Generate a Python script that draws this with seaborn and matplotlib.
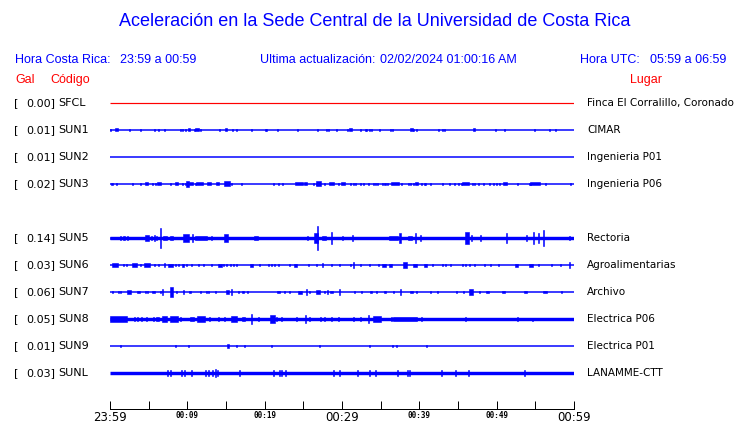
import matplotlib
matplotlib.use("Agg")
import matplotlib.pyplot as plt
import matplotlib.transforms as mtransforms
import pandas as pd
import seaborn as sns

# ---------------- data ----------------
TITLE = "Aceleración en la Sede Central de la Universidad de Costa Rica"
HORA_CR_LABEL = "Hora Costa Rica:"
HORA_CR = "23:59 a 00:59"
ACT_LABEL = "Ultima actualización:"
ACTUALIZACION = "02/02/2024 01:00:16 AM"
UTC_LABEL = "Hora UTC:"
HORA_UTC = "05:59 a 06:59"

# station slots (None = station without data, leaves an empty row)
SLOTS = ["SFCL", "SUN1", "SUN2", "SUN3", None, "SUN5", "SUN6", "SUN7", "SUN8", "SUN9", "SUNL"]
PEAK_GAL = [0.00, 0.01, 0.01, 0.02, None, 0.14, 0.03, 0.06, 0.05, 0.01, 0.03]
PLACES = ["Finca El Corralillo, Coronado", "CIMAR", "Ingenieria P01", "Ingenieria P06", None,
          "Rectoria", "Agroalimentarias", "Archivo", "Electrica P06", "Electrica P01", "LANAMME-CTT"]

# time axis (minutes after 23:59)
TICK_MINUTES = [0, 5, 10, 15, 20, 25, 30, 35, 40, 45, 50, 55, 60]
LABEL_MINUTES = [0, 10, 20, 30, 40, 50, 60]
TICK_LABELS = ["23:59", "00:09", "00:19", "00:29", "00:39", "00:49", "00:59"]

# trace bursts: (minute, half amplitude [counts], duration [min])
SPIKES_SFCL = []
SPIKES_SUN1 = [(0.1, 1.3), (0.86, 1.5, 0.3), (2.5, 1.3), (3.9, 1.3), (5.7, 1.3), (6.3, 1.3), (7.0, 1.3),
               (9.1, 1.3), (9.4, 1.3), (9.7, 1.3), (10.2, 1.5, 0.3), (10.9, 1.3), (11.25, 1.5, 0.45),
               (11.7, 1.3), (14.2, 1.3), (15.0, 1.5, 0.3), (15.8, 1.3), (16.3, 1.3), (18.3, 1.3),
               (20.1, 1.3), (20.3, 1.3), (21.6, 1.3), (24.2, 1.3), (26.8, 1.3), (28.0, 1.3), (28.2, 1.3),
               (29.3, 1.3), (30.7, 1.3), (31.1, 1.5, 0.3), (32.4, 1.3), (33.0, 1.3), (33.2, 1.3),
               (33.5, 1.3), (33.8, 1.3), (34.8, 1.3), (36.3, 1.3), (36.5, 1.3), (39.0, 1.5, 0.3),
               (39.3, 1.3), (39.6, 1.3), (42.5, 1.3), (43.0, 1.3), (43.2, 1.3), (47.1, 1.5, 0.3),
               (49.8, 1.3), (51.0, 1.3), (54.9, 1.3), (56.8, 1.3), (57.6, 1.3)]
SPIKES_SUN2 = []
SPIKES_SUN3 = [(0.22, 1.3, 0.3), (0.86, 1.3), (2.93, 1.3), (3.92, 1.3), (4.70, 1.5, 0.45), (5.47, 1.3),
               (5.82, 1.3), (6.34, 1.5, 0.4), (7.80, 1.3), (8.58, 1.5, 0.4), (9.40, 1.3), (9.78, 1.3),
               (10.04, 2.7, 0.35), (10.47, 1.5, 0.55), (11.08, 1.3), (11.55, 1.5, 0.85),
               (12.76, 1.5, 0.55), (13.92, 1.5, 0.45), (15.13, 2.5, 0.7), (15.65, 1.3), (16.94, 1.3),
               (21.12, 1.3), (21.85, 1.3), (22.28, 1.3), (24.44, 1.5, 0.95), (25.30, 1.5, 0.45),
               (26.29, 1.3), (26.64, 1.3), (26.98, 2.5, 0.6), (27.80, 1.3), (28.66, 1.5, 0.6),
               (29.53, 1.3), (30.13, 1.5, 0.55), (31.12, 1.3), (31.47, 1.3), (31.77, 1.3), (32.33, 1.3),
               (32.84, 1.3), (33.41, 1.3), (34.09, 1.3), (34.31, 1.3), (34.61, 1.3), (35.22, 1.3),
               (35.56, 1.3), (35.86, 1.3), (36.85, 1.5, 1.15), (37.72, 1.3), (38.58, 1.3), (38.92, 1.3),
               (39.22, 1.3), (39.61, 1.5, 0.4), (40.22, 1.3), (40.65, 1.3), (40.86, 1.3), (41.38, 1.3),
               (42.97, 1.3), (43.88, 1.3), (44.53, 1.3), (45.09, 1.3), (45.47, 1.3), (45.99, 1.5, 0.85),
               (46.90, 1.3), (47.11, 1.3), (47.63, 1.3), (48.36, 1.3), (49.05, 1.3), (49.57, 1.3),
               (50.0, 1.3), (50.43, 1.3), (51.08, 1.5, 0.4), (52.67, 1.3), (54.31, 1.3),
               (54.96, 1.5, 1.4), (56.29, 1.3), (59.53, 1.3)]
SPIKES_SUN5 = [(0.2, 1.3, 0.3), (1.38, 2.3), (1.81, 1.7, 0.2), (2.28, 1.7), (2.93, 1.3, 0.3), (3.45, 1.3),
               (4.78, 3.3, 0.5), (5.39, 2.0), (5.73, 2.7), (6.03, 1.7), (6.47, 10.0), (7.11, 2.0, 0.4),
               (7.97, 1.7, 0.4), (8.92, 1.3, 0.6), (9.83, 4.0, 0.7), (10.65, 4.0), (11.77, 1.7, 1.5),
               (13.15, 1.7), (13.79, 1.3), (14.35, 1.3, 0.2), (15.04, 4.0, 0.5), (17.8, 1.3),
               (18.84, 1.7, 0.5), (20.69, 1.3), (22.41, 1.3), (24.18, 1.3, 0.35), (24.57, 1.3),
               (25.13, 1.3), (25.56, 2.0), (26.6, 5.0, 0.5), (26.77, 12.0), (27.72, 1.7, 0.5),
               (28.66, 6.0), (30.04, 2.3), (31.42, 3.3), (32.54, 1.3), (33.19, 1.3), (34.18, 1.3),
               (34.96, 1.3), (35.56, 1.3), (36.64, 1.7, 1.2), (37.5, 5.0), (38.79, 2.0, 0.4),
               (39.44, 4.7), (40.09, 2.7), (41.81, 1.3), (42.89, 1.3), (43.97, 1.3), (45.04, 1.3),
               (46.16, 6.0, 0.5), (46.77, 3.3), (47.97, 3.0), (50.0, 1.3), (51.29, 4.7), (52.37, 1.3),
               (53.88, 3.3), (54.74, 6.0), (55.39, 5.0), (56.12, 8.3), (57.33, 1.3), (58.41, 1.3),
               (59.48, 2.3)]
SPIKES_SUN6 = [(0.65, 1.7, 0.7), (1.81, 1.3), (2.16, 1.3), (3.15, 1.7, 0.6), (3.88, 1.3), (4.78, 1.7, 0.7),
               (5.73, 1.3), (6.25, 1.3), (7.03, 2.3), (7.84, 1.5, 0.6), (8.41, 1.3), (8.84, 1.3),
               (9.44, 1.5, 0.35), (9.91, 1.3), (10.56, 1.3), (11.42, 1.3), (12.07, 1.3), (13.15, 1.3),
               (14.22, 1.5, 0.4), (14.74, 1.3), (15.09, 1.3), (15.52, 1.3), (15.95, 1.3), (16.38, 1.3),
               (18.28, 1.5, 0.35), (19.27, 1.3), (20.47, 1.3), (20.91, 1.3), (21.25, 1.3), (21.77, 1.3),
               (23.19, 1.3), (24.01, 1.5, 0.4), (25.73, 1.3), (26.72, 1.3), (27.46, 2.3), (28.66, 1.3),
               (29.74, 1.3), (31.12, 1.3), (31.47, 2.7), (32.33, 1.3), (33.53, 1.3), (34.78, 1.3),
               (35.43, 1.5, 0.4), (36.29, 1.5, 0.4), (38.15, 2.7, 0.5), (39.44, 1.5, 0.4),
               (40.82, 1.5, 0.4), (41.68, 1.3), (42.97, 1.3), (43.41, 1.3), (43.97, 1.3), (45.6, 1.3),
               (45.99, 1.3), (46.55, 1.3), (47.11, 1.3), (48.49, 1.3), (49.18, 1.3), (50.22, 1.3),
               (52.59, 1.5, 0.4), (54.44, 1.5, 0.4), (55.39, 1.3), (57.03, 1.3), (58.28, 1.3),
               (59.48, 2.7)]
SPIKES_SUN7 = [(0.3, 1.0), (1.08, 1.3), (1.42, 1.3), (2.46, 1.7, 0.6), (3.66, 1.3, 0.35), (4.53, 1.3),
               (4.87, 1.3), (5.6, 1.3, 0.35), (6.47, 1.3), (6.81, 3.3), (7.97, 5.0, 0.3), (8.62, 1.3),
               (9.48, 2.3), (10.34, 1.3, 0.35), (11.64, 1.3), (12.5, 1.3), (12.8, 1.3), (13.58, 1.3),
               (15.22, 1.7, 0.4), (15.73, 2.7), (16.68, 1.3), (17.2, 1.3, 0.35), (17.8, 1.3),
               (21.77, 1.3, 0.4), (22.54, 1.3), (23.15, 1.3), (24.57, 1.5, 0.45), (25.43, 3.3),
               (25.86, 1.3), (26.94, 2.0, 0.5), (27.8, 1.3), (28.15, 2.3), (28.66, 1.3, 0.4),
               (29.74, 3.3), (31.68, 1.3), (32.54, 1.3), (33.75, 1.3), (34.48, 1.3), (35.56, 1.3),
               (36.64, 1.3), (37.54, 3.3), (39.01, 1.3, 0.45), (39.66, 1.3), (41.38, 1.3), (42.33, 1.3),
               (44.83, 1.3), (45.69, 1.3), (46.68, 3.3, 0.5), (47.84, 1.3), (48.84, 1.3, 0.45),
               (50.86, 1.3, 0.4), (53.75, 1.3, 0.4), (56.25, 1.3, 0.4), (58.32, 1.3)]
SPIKES_SUN8 = [(1.08, 2.7, 2.2), (3.23, 2.0), (3.58, 2.0), (4.09, 2.0), (4.74, 2.0), (5.6, 2.3),
               (6.16, 2.0, 0.3), (7.03, 2.7, 0.6), (8.28, 2.7, 1.1), (9.18, 2.0), (10.56, 2.0, 0.5),
               (11.77, 2.7, 1.1), (12.93, 2.0), (14.01, 2.0), (14.87, 2.0), (16.03, 3.3, 0.8),
               (17.24, 2.0, 0.4), (18.32, 4.7), (19.18, 2.0), (20.99, 4.0, 0.6), (21.55, 2.0),
               (22.2, 2.0), (24.14, 2.0), (25.3, 4.0), (25.86, 2.0), (27.16, 2.0), (27.8, 2.0),
               (28.66, 2.0), (29.53, 2.0), (31.47, 2.0), (32.33, 2.0), (33.41, 4.0), (34.57, 2.7, 1.0),
               (36.42, 2.0), (38.15, 2.0, 3.0), (40.22, 2.0), (45.99, 2.0), (52.67, 1.7), (54.66, 1.5)]
SPIKES_SUN9 = [(1.38, 1.2), (8.45, 1.2), (10.13, 1.2), (15.26, 2.0, 0.25), (16.38, 1.2), (17.37, 1.2),
               (20.91, 1.2), (27.07, 1.2), (33.53, 1.2), (36.51, 1.2), (37.03, 1.2), (40.91, 1.2)]
SPIKES_SUNL = [(7.41, 2.7), (7.84, 2.7), (9.27, 2.7), (9.61, 3.3), (10.56, 2.7), (12.41, 2.7),
               (12.72, 2.7), (13.23, 2.7), (13.58, 3.7), (13.88, 2.7), (16.72, 2.7), (21.12, 2.7),
               (21.9, 2.7), (22.24, 2.7), (22.72, 2.7), (28.88, 2.7), (29.74, 2.7), (31.98, 2.7),
               (33.53, 2.7), (34.31, 2.7), (37.16, 2.7), (38.49, 2.7), (38.79, 2.7), (42.84, 2.7),
               (44.66, 2.7), (46.34, 2.7), (53.58, 2.7)]

SPIKES = {"SFCL": SPIKES_SFCL, "SUN1": SPIKES_SUN1, "SUN2": SPIKES_SUN2, "SUN3": SPIKES_SUN3,
          "SUN5": SPIKES_SUN5, "SUN6": SPIKES_SUN6, "SUN7": SPIKES_SUN7, "SUN8": SPIKES_SUN8,
          "SUN9": SPIKES_SUN9, "SUNL": SPIKES_SUNL}

# ---------------- style ----------------
W, H, DPI = 740, 423, 100
BLUE = "#0000ff"
RED = "#ff0000"
PX = 0.72  # points per pixel
BASE_PX = {"SFCL": 1.2, "SUN1": 1.5, "SUN2": 1.5, "SUN3": 1.5, "SUN5": 3.4, "SUN6": 1.5,
           "SUN7": 1.5, "SUN8": 3.4, "SUN9": 1.5, "SUNL": 3.4}
ROW_PX = 27.0
GAIN = 1.0 / ROW_PX  # counts -> row units

sns.set_theme(style="white")
plt.rcParams["font.family"] = ["DejaVu Sans"]

fig = plt.figure(figsize=(W / DPI, H / DPI), dpi=DPI)
fig.patch.set_facecolor("white")


def fx(x):
    return x / W


def fy(y):
    return 1 - y / H


ax = fig.add_axes([fx(110), fy(409), 464 / W, 319 / H])
ax.set_facecolor("white")
top_row = -13 / ROW_PX
bottom_row = 306 / ROW_PX
ax.set_xlim(0, 60)
ax.set_ylim(bottom_row, top_row)

blend = mtransforms.blended_transform_factory(fig.transFigure, ax.transData)

for row, (code, peak, place) in enumerate(zip(SLOTS, PEAK_GAL, PLACES)):
    if code is None:
        continue
    color = RED if code == "SFCL" else BLUE
    base = pd.DataFrame({"t": [0, 60], "y": [row, row]})
    sns.lineplot(data=base, x="t", y="y", ax=ax, color=color,
                 linewidth=BASE_PX[code] * PX, solid_capstyle="butt")
    sp = SPIKES[code]
    if sp:
        times = [s[0] for s in sp]
        amps = [s[1] * GAIN for s in sp]
        widths = [s[2] if len(s) > 2 else 0.13 for s in sp]
        ax.bar(times, [2 * a for a in amps], bottom=[row - a for a in amps], width=widths,
               color=color, edgecolor=color, linewidth=0.4, align="center")
    # labels
    fig.text(fx(14), row, "[", transform=blend, ha="left", va="center", fontsize=8, color="black")
    fig.text(fx(55.5), row, f"{peak:.2f}]", transform=blend, ha="right", va="center",
             fontsize=8, color="black")
    fig.text(fx(58), row, code, transform=blend, ha="left", va="center", fontsize=8, color="black")
    fig.text(fx(587), row, place, transform=blend, ha="left", va="center", fontsize=7.45,
             color="black")

# axis styling
for s in ["top", "left", "right"]:
    ax.spines[s].set_visible(False)
ax.spines["bottom"].set_color("black")
ax.spines["bottom"].set_linewidth(1.0 * PX)
ax.set_yticks([])
ax.set_ylabel("")
ax.set_xlabel("")
ax.set_xticks(LABEL_MINUTES)
ax.set_xticklabels(TICK_LABELS)
ax.set_xticks([m for m in TICK_MINUTES if m not in LABEL_MINUTES], minor=True)
ax.tick_params(axis="x", which="both", direction="in", length=8.5 * PX, width=1.0 * PX,
               color="black", bottom=True, pad=1.5)
for lab, m in zip(ax.get_xticklabels(), LABEL_MINUTES):
    if m % 30 == 0:
        lab.set_fontsize(8.5)
        lab.set_family("DejaVu Sans")
    else:
        lab.set_fontsize(5.5)
        lab.set_family("DejaVu Sans Mono")
        lab.set_fontweight("bold")
    lab.set_color("black")

# header texts
hdr = dict(family="Liberation Sans", va="center", ha="left")
fig.text(fx(375), fy(22), TITLE, ha="center", va="center", family="Liberation Sans",
         fontsize=13, color=BLUE)
fig.text(fx(15), fy(60), HORA_CR_LABEL, fontsize=9, color=BLUE, **hdr)
fig.text(fx(120), fy(60), HORA_CR, fontsize=9, color=BLUE, **hdr)
fig.text(fx(260.5), fy(60), ACT_LABEL, fontsize=9, color=BLUE, **hdr)
fig.text(fx(380), fy(60), ACTUALIZACION, fontsize=9, color=BLUE, **hdr)
fig.text(fx(580.5), fy(60), UTC_LABEL, fontsize=9, color=BLUE, **hdr)
fig.text(fx(650), fy(60), HORA_UTC, fontsize=9, color=BLUE, **hdr)
fig.text(fx(15), fy(80), "Gal", fontsize=9, color=RED, **hdr)
fig.text(fx(50), fy(80), "Código", fontsize=9, color=RED, **hdr)
fig.text(fx(630), fy(80), "Lugar", fontsize=9, color=RED, **hdr)

fig.savefig("out.png", dpi=DPI, facecolor="white")
